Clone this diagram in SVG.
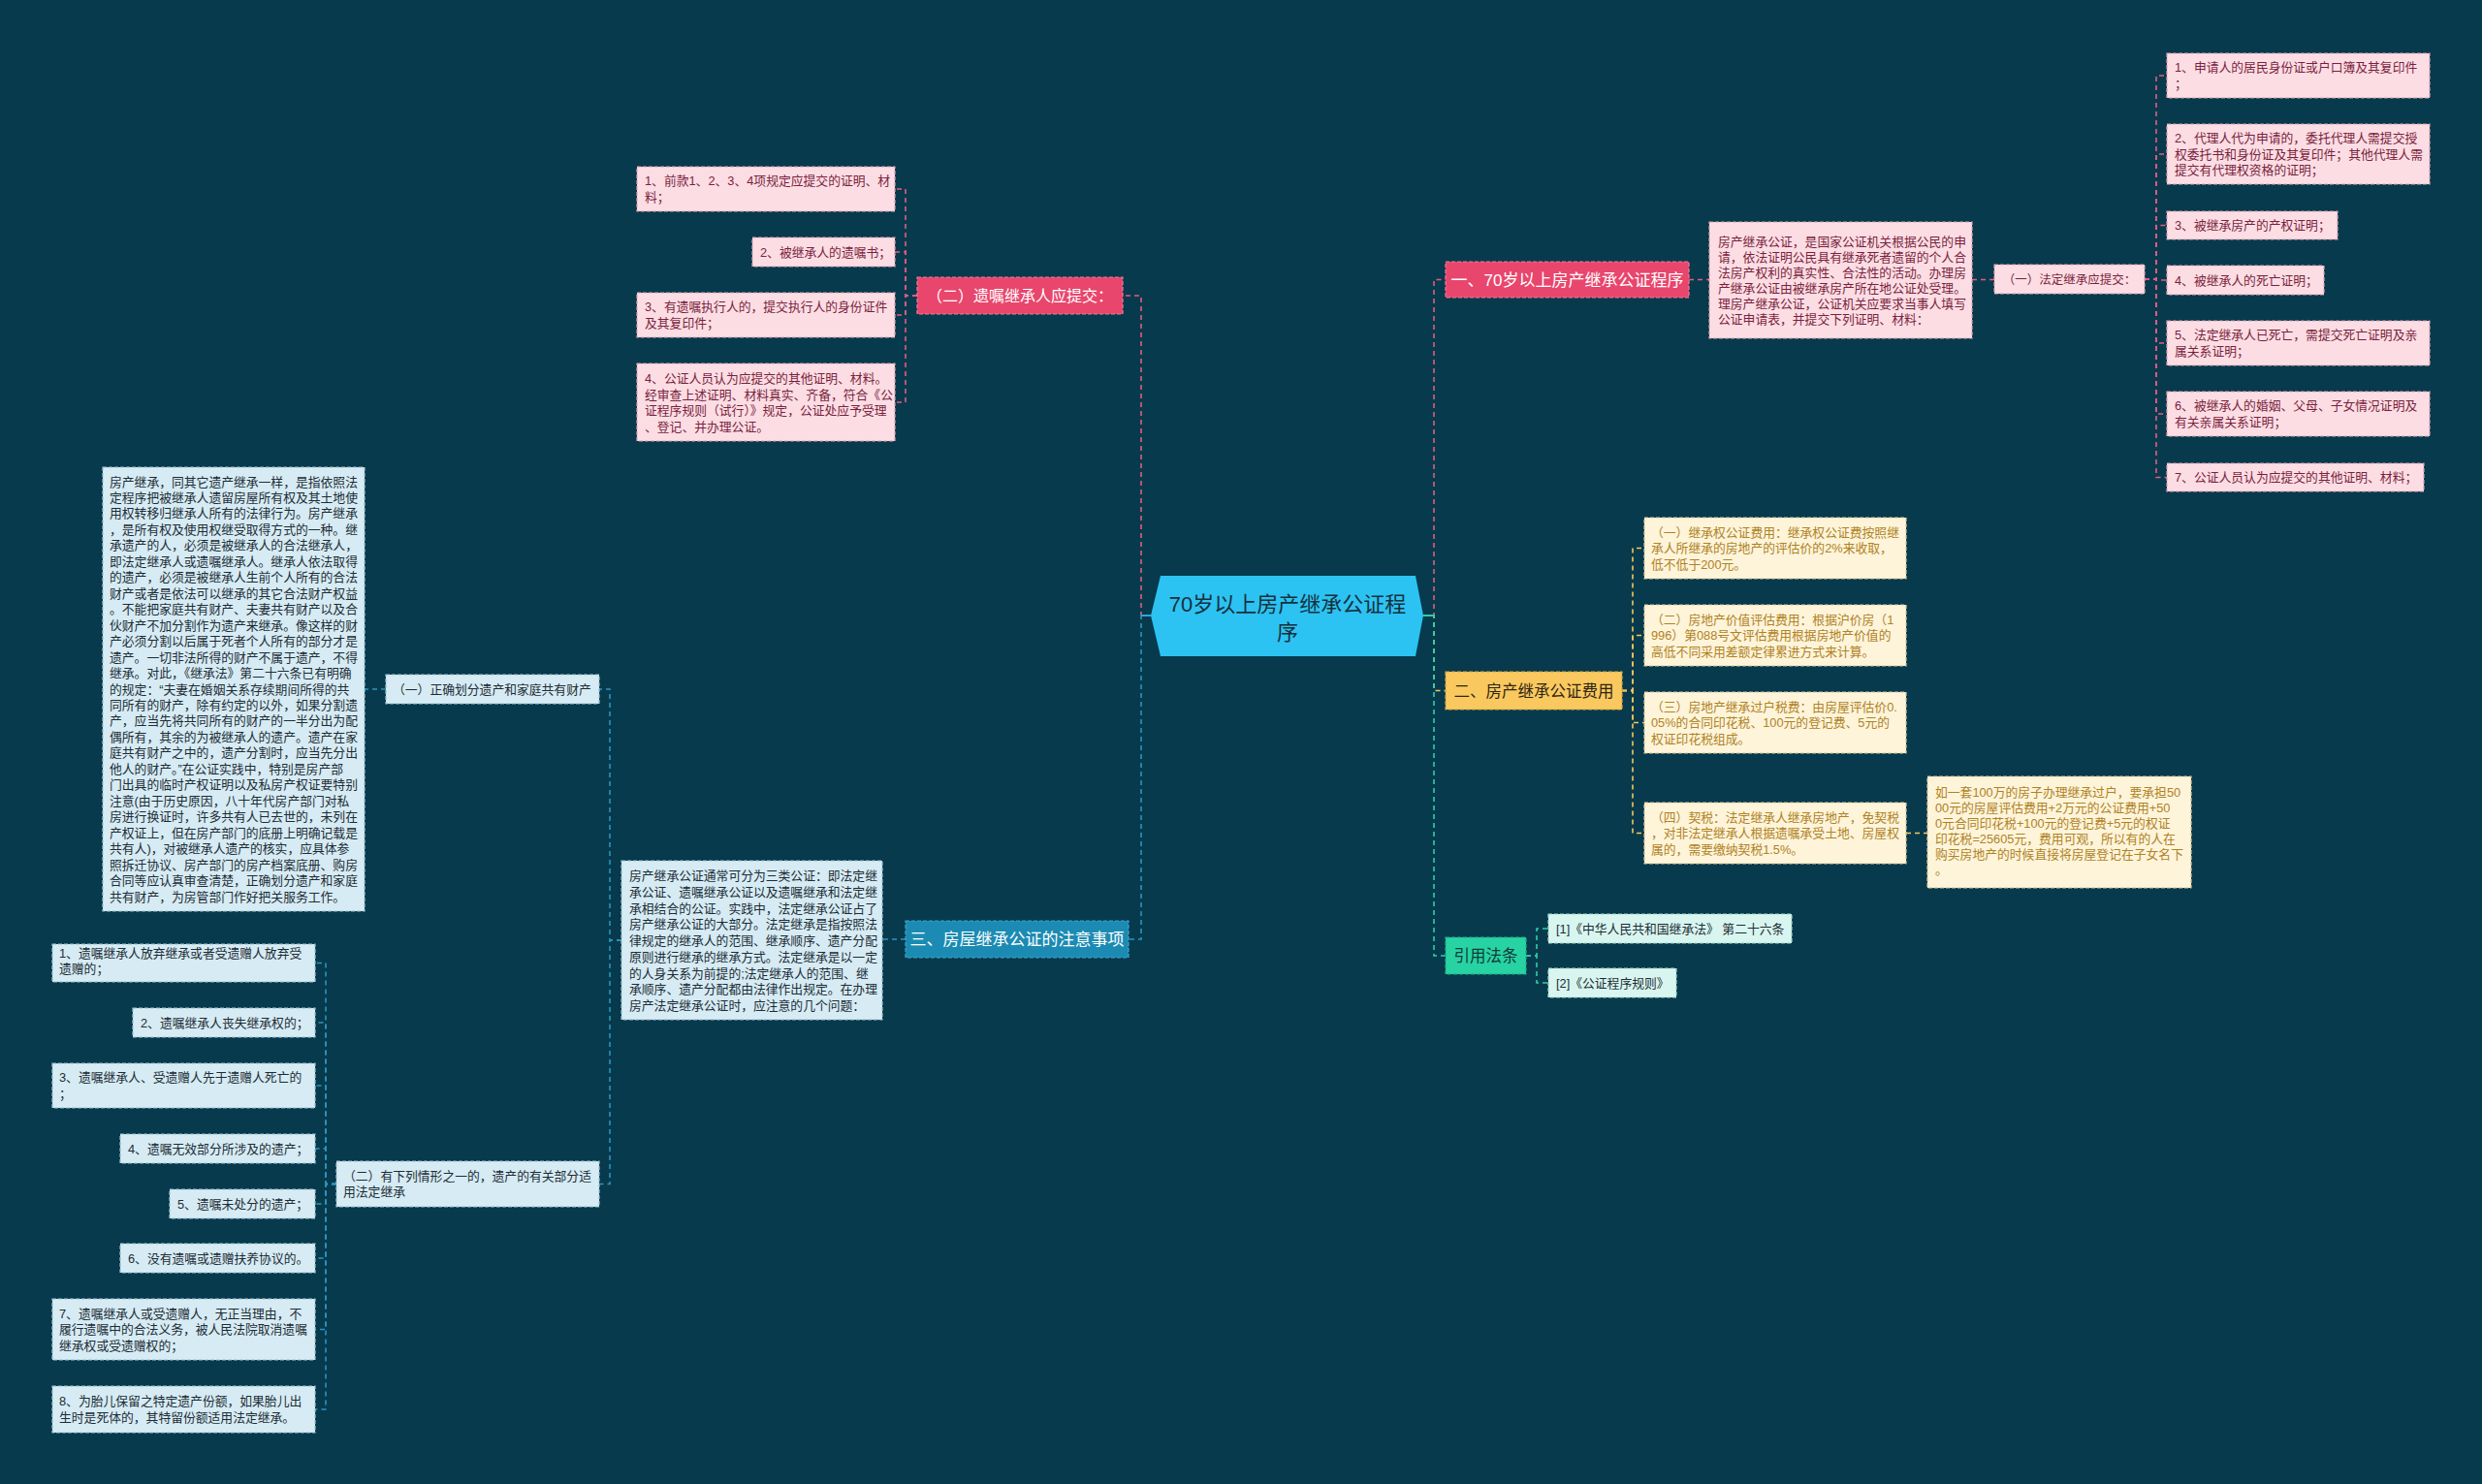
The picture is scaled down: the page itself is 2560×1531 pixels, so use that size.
<svg xmlns="http://www.w3.org/2000/svg" width="2560" height="1531" viewBox="0 0 2560 1531">
<style>
text{font-family:"Liberation Sans","Noto Sans CJK SC",sans-serif;}
.t13{font-size:12.8px;}
.pl{fill:#FCDDE4;stroke:#D9A3B2;stroke-width:1.2;stroke-dasharray:4 2;}
.plt{fill:#7A1F3D;}
.pb{fill:#E8466D;stroke:#F07A95;stroke-width:1.2;stroke-dasharray:4 2;}
.yb{fill:#F9C95F;stroke:#D9A43A;stroke-width:1.2;stroke-dasharray:4 2;}
.yl{fill:#FDF4DA;stroke:#D8C79A;stroke-width:1.2;stroke-dasharray:4 2;}
.ylt{fill:#B08223;}
.gb{fill:#27D3A3;stroke:#1FAE86;stroke-width:1.2;stroke-dasharray:4 2;}
.gl{fill:#D8F6EF;stroke:#9FD6C8;stroke-width:1.2;stroke-dasharray:4 2;}
.bb{fill:#1C8BB3;stroke:#3AA6CB;stroke-width:1.2;stroke-dasharray:4 2;}
.bl{fill:#D6EBF3;stroke:#9CC3D3;stroke-width:1.2;stroke-dasharray:4 2;}
.dk{fill:#1C2C36;}
.wt{fill:#FFFFFF;}
.c{fill:none;stroke-width:1.6;stroke-dasharray:5 4;}
.cp{stroke:#E25C80;}
.cy{stroke:#F5C65A;}
.cg{stroke:#2BD1A2;}
.cb{stroke:#2B95BC;}
</style>
<rect x="0" y="0" width="2560" height="1531" fill="#083A4D"/>

<g id="connectors">
  <path class="c cp" d="M1468 635 H1479 V288.5 H1491"/>
  <path class="c cy" d="M1468 635 H1479 V712.5 H1491"/>
  <path class="c cg" d="M1468 635 H1479 V986 H1491"/>
  <path d="M1468 635 H1479" stroke="#2BD1A2" stroke-width="2" fill="none"/>
  <path class="c cp" d="M1187 635 H1177 V305 H1158"/>
  <path class="c cb" d="M1187 635 H1177 V969 H1164"/>
  <path d="M1187 635 H1177" stroke="#2CA9D6" stroke-width="2" fill="none"/>
  <path class="c cp" d="M1742 288.5 H1763"/>
  <path class="c cp" d="M2034 288.5 H2057"/>
  <path class="c cp" d="M2212 288 H2224 V78 H2235"/>
  <path class="c cp" d="M2212 288 H2224 V159 H2235"/>
  <path class="c cp" d="M2212 288 H2224 V232.5 H2235"/>
  <path class="c cp" d="M2212 288 H2224 V289 H2235"/>
  <path class="c cp" d="M2212 288 H2224 V354 H2235"/>
  <path class="c cp" d="M2212 288 H2224 V427 H2235"/>
  <path class="c cp" d="M2212 288 H2224 V492.5 H2235"/>
  <path class="c cy" d="M1673 712.5 H1684 V565.5 H1696"/>
  <path class="c cy" d="M1673 712.5 H1684 V655.5 H1696"/>
  <path class="c cy" d="M1673 712.5 H1684 V745.5 H1696"/>
  <path class="c cy" d="M1673 712.5 H1684 V859.5 H1696"/>
  <path class="c cy" d="M1966 859.5 H1988"/>
  <path class="c cg" d="M1574 986 H1585 V958 H1597"/>
  <path class="c cg" d="M1574 986 H1585 V1014 H1597"/>
  <path class="c cp" d="M946 305 H934 V195 H923"/>
  <path class="c cp" d="M946 305 H934 V260 H923"/>
  <path class="c cp" d="M946 305 H934 V325 H923"/>
  <path class="c cp" d="M946 305 H934 V415 H923"/>
  <path class="c cb" d="M934 969 H910"/>
  <path class="c cb" d="M641 970 H629 V711 H618"/>
  <path class="c cb" d="M641 970 H629 V1221.5 H618"/>
  <path class="c cb" d="M398 711 H376"/>
  <path class="c cb" d="M347 1221.5 H336 V993.5 H325"/>
  <path class="c cb" d="M347 1221.5 H336 V1055 H325"/>
  <path class="c cb" d="M347 1221.5 H336 V1120 H325"/>
  <path class="c cb" d="M347 1221.5 H336 V1185 H325"/>
  <path class="c cb" d="M347 1221.5 H336 V1242 H325"/>
  <path class="c cb" d="M347 1221.5 H336 V1298 H325"/>
  <path class="c cb" d="M347 1221.5 H336 V1371.5 H325"/>
  <path class="c cb" d="M347 1221.5 H336 V1454 H325"/>
</g>

<g id="center">
  <polygon points="1187,635 1197,594 1460,594 1468,635 1460,677 1197,677" fill="#2CC3F2"/>
  <text x="1328" y="631" font-size="22" text-anchor="middle" fill="#15303D">70岁以上房产继承公证程</text>
  <text x="1328" y="660" font-size="22" text-anchor="middle" fill="#15303D">序</text>
</g>

<!-- Branch 一 -->
<g id="b1">
  <rect class="pb" x="1491" y="270" width="251" height="37"/>
  <text x="1616.5" y="294.5" font-size="17" text-anchor="middle" class="wt">一、70岁以上房产继承公证程序</text>
</g>
<g id="b1-desc">
  <rect class="pl" x="1763" y="229" width="271" height="120"/>
  <text class="t13 plt"><tspan x="1772" y="253.5">房产继承公证，是国家公证机关根据公民的申</tspan><tspan x="1772" y="269.5">请，依法证明公民具有继承死者遗留的个人合</tspan><tspan x="1772" y="285.5">法房产权利的真实性、合法性的活动。办理房</tspan><tspan x="1772" y="301.5">产继承公证由被继承房产所在地公证处受理。</tspan><tspan x="1772" y="317.5">理房产继承公证，公证机关应要求当事人填写</tspan><tspan x="1772" y="333.5">公证申请表，并提交下列证明、材料：</tspan></text>
</g>
<g id="b1-sub">
  <rect class="pl" x="2057" y="273" width="155" height="30"/>
  <text x="2134.5" y="292.5" font-size="12.5" text-anchor="middle" class="plt">（一）法定继承应提交：</text>
</g>
<g id="r1"><rect class="pl" x="2235" y="55" width="271" height="46"/><text class="t13 plt"><tspan x="2243" y="74">1、申请人的居民身份证或户口簿及其复印件</tspan><tspan x="2243" y="90.5">；</tspan></text></g>
<g id="r2"><rect class="pl" x="2235" y="128" width="271" height="62"/><text class="t13 plt"><tspan x="2243" y="147">2、代理人代为申请的，委托代理人需提交授</tspan><tspan x="2243" y="163.5">权委托书和身份证及其复印件；其他代理人需</tspan><tspan x="2243" y="180">提交有代理权资格的证明；</tspan></text></g>
<g id="r3"><rect class="pl" x="2235" y="218" width="176" height="29"/><text class="t13 plt" x="2243" y="237">3、被继承房产的产权证明；</text></g>
<g id="r4"><rect class="pl" x="2235" y="274" width="162" height="30"/><text class="t13 plt" x="2243" y="293.5">4、被继承人的死亡证明；</text></g>
<g id="r5"><rect class="pl" x="2235" y="331" width="271" height="46"/><text class="t13 plt"><tspan x="2243" y="350">5、法定继承人已死亡，需提交死亡证明及亲</tspan><tspan x="2243" y="366.5">属关系证明；</tspan></text></g>
<g id="r6"><rect class="pl" x="2235" y="404" width="271" height="46"/><text class="t13 plt"><tspan x="2243" y="423">6、被继承人的婚姻、父母、子女情况证明及</tspan><tspan x="2243" y="439.5">有关亲属关系证明；</tspan></text></g>
<g id="r7"><rect class="pl" x="2235" y="478" width="265" height="29"/><text class="t13 plt" x="2243" y="497">7、公证人员认为应提交的其他证明、材料；</text></g>

<!-- Branch 二 -->
<g id="b2">
  <rect class="yb" x="1491" y="693" width="182" height="39"/>
  <text x="1582" y="718.5" font-size="16.5" text-anchor="middle" fill="#2E2410">二、房产继承公证费用</text>
</g>
<g id="f1"><rect class="yl" x="1696" y="534" width="270" height="63"/><text class="t13 ylt"><tspan x="1703" y="553.5">（一）继承权公证费用：继承权公证费按照继</tspan><tspan x="1703" y="570">承人所继承的房地产的评估价的2%来收取，</tspan><tspan x="1703" y="586.5">低不低于200元。</tspan></text></g>
<g id="f2"><rect class="yl" x="1696" y="624" width="270" height="63"/><text class="t13 ylt"><tspan x="1703" y="643.5">（二）房地产价值评估费用：根据沪价房（1</tspan><tspan x="1703" y="660">996）第088号文评估费用根据房地产价值的</tspan><tspan x="1703" y="676.5">高低不同采用差额定律累进方式来计算。</tspan></text></g>
<g id="f3"><rect class="yl" x="1696" y="714" width="270" height="63"/><text class="t13 ylt"><tspan x="1703" y="733.5">（三）房地产继承过户税费：由房屋评估价0.</tspan><tspan x="1703" y="750">05%的合同印花税、100元的登记费、5元的</tspan><tspan x="1703" y="766.5">权证印花税组成。</tspan></text></g>
<g id="f4"><rect class="yl" x="1696" y="828" width="270" height="63"/><text class="t13 ylt"><tspan x="1703" y="847.5">（四）契税：法定继承人继承房地产，免契税</tspan><tspan x="1703" y="864">，对非法定继承人根据遗嘱承受土地、房屋权</tspan><tspan x="1703" y="880.5">属的，需要缴纳契税1.5%。</tspan></text></g>
<g id="f4-note"><rect class="yl" x="1988" y="801" width="272" height="115"/><text class="t13 ylt"><tspan x="1996" y="822">如一套100万的房子办理继承过户，要承担50</tspan><tspan x="1996" y="838">00元的房屋评估费用+2万元的公证费用+50</tspan><tspan x="1996" y="854">0元合同印花税+100元的登记费+5元的权证</tspan><tspan x="1996" y="870">印花税=25605元，费用可观，所以有的人在</tspan><tspan x="1996" y="886">购买房地产的时候直接将房屋登记在子女名下</tspan><tspan x="1996" y="902">。</tspan></text></g>

<!-- 引用法条 -->
<g id="b4">
  <rect class="gb" x="1491" y="967" width="83" height="38"/>
  <text x="1532.5" y="992" font-size="16.5" text-anchor="middle" fill="#123A3A">引用法条</text>
</g>
<g id="ref1"><rect class="gl" x="1597" y="943" width="251" height="30"/><text class="t13 dk" x="1605" y="962.5">[1]《中华人民共和国继承法》 第二十六条</text></g>
<g id="ref2"><rect class="gl" x="1597" y="999" width="132" height="30"/><text class="t13 dk" x="1605" y="1018.5">[2]《公证程序规则》</text></g>

<!-- Left branch (二) -->
<g id="b5">
  <rect class="pb" x="946" y="286" width="212" height="38"/>
  <text x="1052" y="310.5" font-size="16" text-anchor="middle" class="wt">（二）遗嘱继承人应提交：</text>
</g>
<g id="p1"><rect class="pl" x="657" y="172" width="266" height="46"/><text class="t13 plt"><tspan x="665" y="191">1、前款1、2、3、4项规定应提交的证明、材</tspan><tspan x="665" y="207.5">料；</tspan></text></g>
<g id="p2"><rect class="pl" x="776" y="245" width="147" height="30"/><text class="t13 plt" x="784" y="264.5">2、被继承人的遗嘱书；</text></g>
<g id="p3"><rect class="pl" x="657" y="302" width="266" height="46"/><text class="t13 plt"><tspan x="665" y="321">3、有遗嘱执行人的，提交执行人的身份证件</tspan><tspan x="665" y="337.5">及其复印件；</tspan></text></g>
<g id="p4"><rect class="pl" x="657" y="375" width="266" height="80"/><text class="t13 plt"><tspan x="665" y="395">4、公证人员认为应提交的其他证明、材料。</tspan><tspan x="665" y="411.5">经审查上述证明、材料真实、齐备，符合《公</tspan><tspan x="665" y="428">证程序规则（试行）》规定，公证处应予受理</tspan><tspan x="665" y="444.5">、登记、并办理公证。</tspan></text></g>

<!-- Left branch 三 -->
<g id="b3">
  <rect class="bb" x="934" y="950" width="230" height="38"/>
  <text x="1049" y="975" font-size="17" text-anchor="middle" class="wt">三、房屋继承公证的注意事项</text>
</g>
<g id="b3-desc"><rect class="bl" x="641" y="888" width="269" height="164"/><text class="t13 dk"><tspan x="649" y="908">房产继承公证通常可分为三类公证：即法定继</tspan><tspan x="649" y="924.75">承公证、遗嘱继承公证以及遗嘱继承和法定继</tspan><tspan x="649" y="941.5">承相结合的公证。实践中，法定继承公证占了</tspan><tspan x="649" y="958.25">房产继承公证的大部分。法定继承是指按照法</tspan><tspan x="649" y="975">律规定的继承人的范围、继承顺序、遗产分配</tspan><tspan x="649" y="991.75">原则进行继承的继承方式。法定继承是以一定</tspan><tspan x="649" y="1008.5">的人身关系为前提的;法定继承人的范围、继</tspan><tspan x="649" y="1025.25">承顺序、遗产分配都由法律作出规定。在办理</tspan><tspan x="649" y="1042">房产法定继承公证时，应注意的几个问题：</tspan></text></g>
<g id="s1"><rect class="bl" x="398" y="696" width="220" height="30"/><text class="t13 dk" x="405" y="715.5">（一）正确划分遗产和家庭共有财产</text></g>
<g id="s1-desc"><rect class="bl" x="106" y="482" width="270" height="458"/><text class="t13 dk"><tspan x="113" y="501.5">房产继承，同其它遗产继承一样，是指依照法</tspan><tspan x="113" y="518">定程序把被继承人遗留房屋所有权及其土地使</tspan><tspan x="113" y="534.4">用权转移归继承人所有的法律行为。房产继承</tspan><tspan x="113" y="550.9">，是所有权及使用权继受取得方式的一种。继</tspan><tspan x="113" y="567.3">承遗产的人，必须是被继承人的合法继承人，</tspan><tspan x="113" y="583.8">即法定继承人或遗嘱继承人。继承人依法取得</tspan><tspan x="113" y="600.3">的遗产，必须是被继承人生前个人所有的合法</tspan><tspan x="113" y="616.7">财产或者是依法可以继承的其它合法财产权益</tspan><tspan x="113" y="633.2">。不能把家庭共有财产、夫妻共有财产以及合</tspan><tspan x="113" y="649.6">伙财产不加分割作为遗产来继承。像这样的财</tspan><tspan x="113" y="666.1">产必须分割以后属于死者个人所有的部分才是</tspan><tspan x="113" y="682.6">遗产。一切非法所得的财产不属于遗产，不得</tspan><tspan x="113" y="699">继承。对此，《继承法》第二十六条已有明确</tspan><tspan x="113" y="715.5">的规定：“夫妻在婚姻关系存续期间所得的共</tspan><tspan x="113" y="731.9">同所有的财产，除有约定的以外，如果分割遗</tspan><tspan x="113" y="748.4">产，应当先将共同所有的财产的一半分出为配</tspan><tspan x="113" y="764.9">偶所有，其余的为被继承人的遗产。遗产在家</tspan><tspan x="113" y="781.3">庭共有财产之中的，遗产分割时，应当先分出</tspan><tspan x="113" y="797.8">他人的财产。”在公证实践中，特别是房产部</tspan><tspan x="113" y="814.2">门出具的临时产权证明以及私房产权证要特别</tspan><tspan x="113" y="830.7">注意(由于历史原因，八十年代房产部门对私</tspan><tspan x="113" y="847.2">房进行换证时，许多共有人已去世的，未列在</tspan><tspan x="113" y="863.6">产权证上，但在房产部门的底册上明确记载是</tspan><tspan x="113" y="880.1">共有人)，对被继承人遗产的核实，应具体参</tspan><tspan x="113" y="896.5">照拆迁协议、房产部门的房产档案底册、购房</tspan><tspan x="113" y="913">合同等应认真审查清楚，正确划分遗产和家庭</tspan><tspan x="113" y="929.5">共有财产，为房管部门作好把关服务工作。</tspan></text></g>
<g id="s2"><rect class="bl" x="347" y="1198" width="271" height="47"/><text class="t13 dk"><tspan x="354" y="1217.5">（二）有下列情形之一的，遗产的有关部分适</tspan><tspan x="354" y="1234">用法定继承</tspan></text></g>
<g id="q1"><rect class="bl" x="54" y="974" width="271" height="39"/><text class="t13 dk"><tspan x="61" y="988">1、遗嘱继承人放弃继承或者受遗赠人放弃受</tspan><tspan x="61" y="1004">遗赠的；</tspan></text></g>
<g id="q2"><rect class="bl" x="137" y="1040" width="188" height="30"/><text class="t13 dk" x="145" y="1059.5">2、遗嘱继承人丧失继承权的；</text></g>
<g id="q3"><rect class="bl" x="54" y="1097" width="271" height="46"/><text class="t13 dk"><tspan x="61" y="1116">3、遗嘱继承人、受遗赠人先于遗赠人死亡的</tspan><tspan x="61" y="1132.5">；</tspan></text></g>
<g id="q4"><rect class="bl" x="124" y="1170" width="201" height="30"/><text class="t13 dk" x="132" y="1189.5">4、遗嘱无效部分所涉及的遗产；</text></g>
<g id="q5"><rect class="bl" x="175" y="1227" width="150" height="30"/><text class="t13 dk" x="183" y="1246.5">5、遗嘱未处分的遗产；</text></g>
<g id="q6"><rect class="bl" x="124" y="1283" width="201" height="30"/><text class="t13 dk" x="132" y="1302.5">6、没有遗嘱或遗赠扶养协议的。</text></g>
<g id="q7"><rect class="bl" x="54" y="1340" width="271" height="63"/><text class="t13 dk"><tspan x="61" y="1359.5">7、遗嘱继承人或受遗赠人，无正当理由，不</tspan><tspan x="61" y="1376">履行遗嘱中的合法义务，被人民法院取消遗嘱</tspan><tspan x="61" y="1392.5">继承权或受遗赠权的；</tspan></text></g>
<g id="q8"><rect class="bl" x="54" y="1430" width="271" height="48"/><text class="t13 dk"><tspan x="61" y="1450">8、为胎儿保留之特定遗产份额，如果胎儿出</tspan><tspan x="61" y="1466.5">生时是死体的，其特留份额适用法定继承。</tspan></text></g>
</svg>
